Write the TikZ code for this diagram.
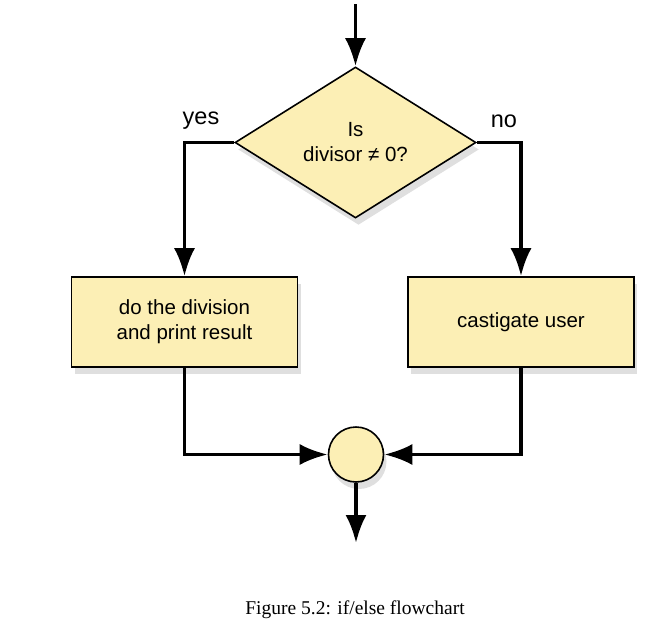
\documentclass[tikz,border=0pt]{standalone}
\usepackage{fontspec}
\setmainfont{Liberation Serif}
\setsansfont{Liberation Sans}
\usetikzlibrary{positioning}
\usetikzlibrary{shapes}
\usetikzlibrary{arrows.meta}
\usetikzlibrary{shadows}
\definecolor{stepfill}{RGB}{252,239,181}
\tikzset{stepnode/.style={shape=rectangle, minimum width=226pt, minimum height=90pt, draw=black, line width=1.6pt, fill=stepfill, align=center,
    font=\sffamily\fontsize{20.5}{25}\selectfont, drop shadow={opacity=0.25, shadow xshift=3pt, shadow yshift=-7pt}},
  flow/.style={line width=3.6pt, -{Latex[length=28pt, width=21pt]}}}

\begin{document}
\begin{tikzpicture}[x=1pt, y=-1pt,
    decide/.style={stepnode, shape=diamond, minimum width=241pt, minimum height=151pt, inner sep=0pt},
    joint/.style={stepnode, shape=circle, minimum width=55pt, minimum height=55pt, inner sep=0pt},
    branch/.style={font=\sffamily\fontsize{23.5}{28}\selectfont}]
    \useasboundingbox (0,0) rectangle (657,643);
    \node[decide] (test) at (355.5,142.5) {Is\\divisor ≠ 0?};
    \node[stepnode] (divide) at (184.5,322) {do the division\\and print result};
    \node[stepnode] (scold) at (521,322) {castigate user};
    \node[joint] (merge) at (356,454.5) {};
    \coordinate (entry) at (355.5,4);
    \coordinate (exit) at (356,543);
    \node[branch] (yes) at (201,121) {yes};
    \node[branch] (no) at (504,121) {no};
    \node[font=\fontsize{19.5}{23}\selectfont] (caption) at (355,610) {Figure 5.2: if/else flowchart};

    \draw[flow] (entry) -- (test.north);
    \draw[flow] (test.west) -| (divide.north);
    \draw[flow] (test.east) -| (scold.north);
    \draw[flow] (divide.south) |- (merge.west);
    \draw[flow] (scold.south) |- (merge.east);
    \draw[flow] (merge.south) -- (exit);
  \end{tikzpicture}
\end{document}
